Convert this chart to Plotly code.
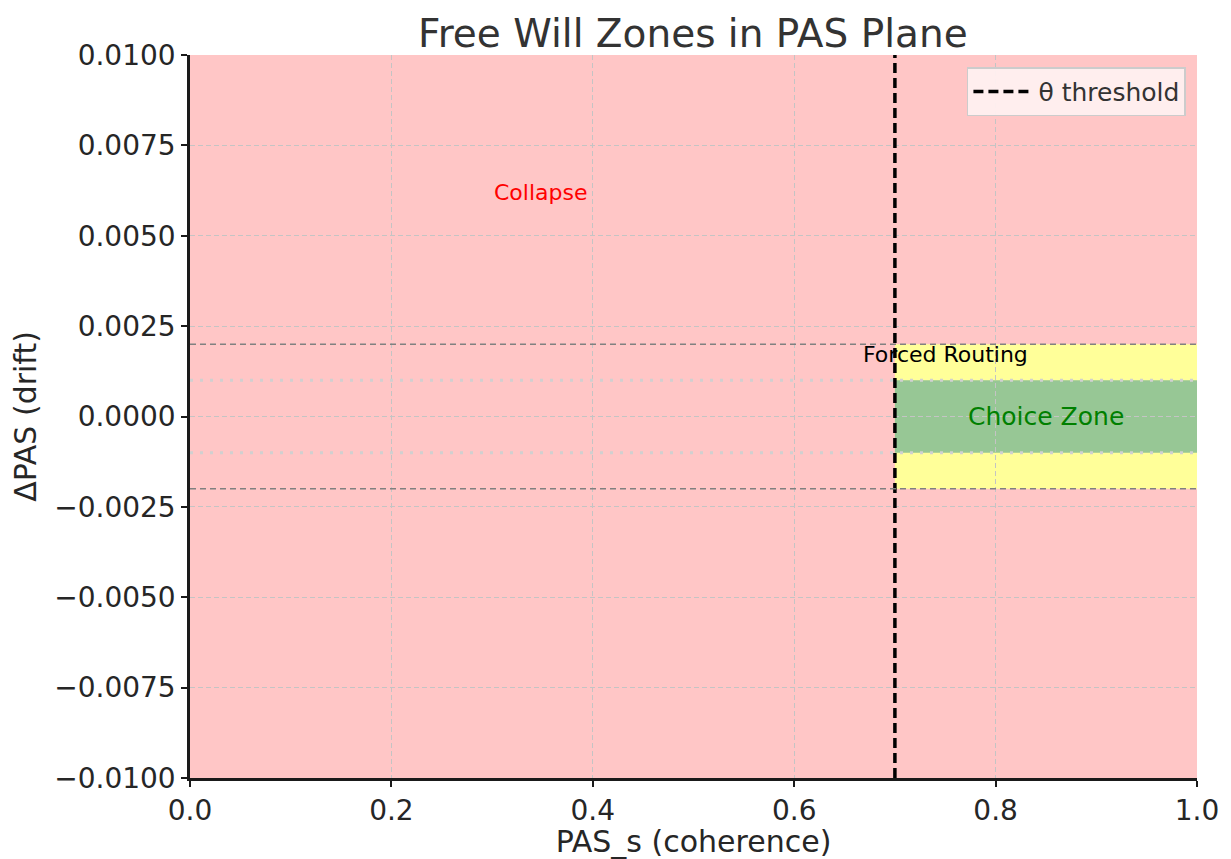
import plotly.graph_objects as go

# Data
theta = 0.7
x_range = [0.0, 1.0]
y_range = [-0.01, 0.01]
forced_band = [-0.002, 0.002]
choice_band = [-0.001, 0.001]
zone_labels = ["Collapse", "Forced Routing", "Choice Zone"]
label_x = [0.30, 0.75, 0.85]
label_y = [0.006, 0.0015, 0.0]
label_colors = ["red", "black", "green"]
x_ticks = [0.0, 0.2, 0.4, 0.6, 0.8, 1.0]
y_ticks = [-0.01, -0.0075, -0.005, -0.0025, 0.0, 0.0025, 0.005, 0.0075, 0.01]

FONT = "DejaVu Sans"
fig = go.Figure()

shapes = [
    dict(type="rect", xref="x", yref="y", x0=x_range[0], x1=x_range[1], y0=y_range[0], y1=y_range[1],
         fillcolor="#ffc6c6", line=dict(width=0), layer="below"),
    dict(type="rect", xref="x", yref="y", x0=theta, x1=x_range[1], y0=forced_band[0], y1=forced_band[1],
         fillcolor="#ffff99", line=dict(width=0), layer="below"),
    dict(type="rect", xref="x", yref="y", x0=theta, x1=x_range[1], y0=choice_band[0], y1=choice_band[1],
         fillcolor="#97c795", line=dict(width=0), layer="below"),
]
for yv in forced_band:
    shapes.append(dict(type="line", xref="x", yref="y", x0=x_range[0], x1=x_range[1], y0=yv, y1=yv,
                       line=dict(color="#808080", width=1.5, dash="6px,4px")))
for yv in choice_band:
    shapes.append(dict(type="line", xref="x", yref="y", x0=x_range[0], x1=x_range[1], y0=yv, y1=yv,
                       line=dict(color="#d0d0d0", width=3, dash="3px,7px")))

fig.add_trace(go.Scatter(x=[theta, theta], y=y_range, mode="lines",
                         line=dict(color="black", width=3.5, dash="10px,5px"),
                         name="θ threshold"))

annotations = []
anchors = ["left", "center", "center"]
yanch = ["bottom", "bottom", "middle"]
sizes = [22, 22, 25]
shifts = [-7, -7, 0]
for t, xv, yv, c, a, ya, s, sh in zip(zone_labels, label_x, label_y, label_colors, anchors, yanch, sizes, shifts):
    annotations.append(dict(x=xv, y=yv, xref="x", yref="y", text=t, showarrow=False,
                            xanchor=a, yanchor=ya, yshift=sh,
                            font=dict(family=FONT, size=s, color=c)))

grid_style = dict(showgrid=True, gridcolor="#c4c4c4", griddash="5px,3px", gridwidth=1)
axis_style = dict(showline=True, linecolor="#1a1a1a", linewidth=2.5, mirror=False,
                  ticks="outside", ticklen=6, tickwidth=2, tickcolor="#1a1a1a", automargin=False,
                  tickfont=dict(family=FONT, size=28, color="#262626"), zeroline=False)

fig.update_layout(
    width=1223, height=851,
    paper_bgcolor="white", plot_bgcolor="white",
    margin=dict(l=182, r=34, t=47, b=81),
    title=dict(text="Free Will Zones in PAS Plane", x=0.56, xanchor="center", y=0.97, yanchor="middle",
               font=dict(family=FONT, size=39, color="#333333")),
    font=dict(family=FONT, color="#262626"),
    shapes=shapes,
    annotations=annotations,
    showlegend=True,
    legend=dict(x=0.989, y=0.983, xanchor="right", yanchor="top", itemwidth=60,
                bgcolor="rgba(255,240,240,0.95)", bordercolor="#cccccc", borderwidth=1.5,
                font=dict(family=FONT, size=25, color="#333333")),
    xaxis=dict(range=x_range, tickvals=x_ticks, ticktext=[f"{v:.1f}" for v in x_ticks],
               title=dict(text="PAS_s (coherence)", font=dict(family=FONT, size=30, color="#262626"), standoff=6),
               **grid_style, **axis_style),
    yaxis=dict(range=y_range, tickvals=y_ticks,
               ticktext=[(f"{v:.4f}").replace("-", "\u2212") for v in y_ticks],
               title=dict(text="ΔPAS (drift)", font=dict(family=FONT, size=30, color="#262626"), standoff=22),
               **grid_style, **axis_style),
)

fig.write_html("out.html")
